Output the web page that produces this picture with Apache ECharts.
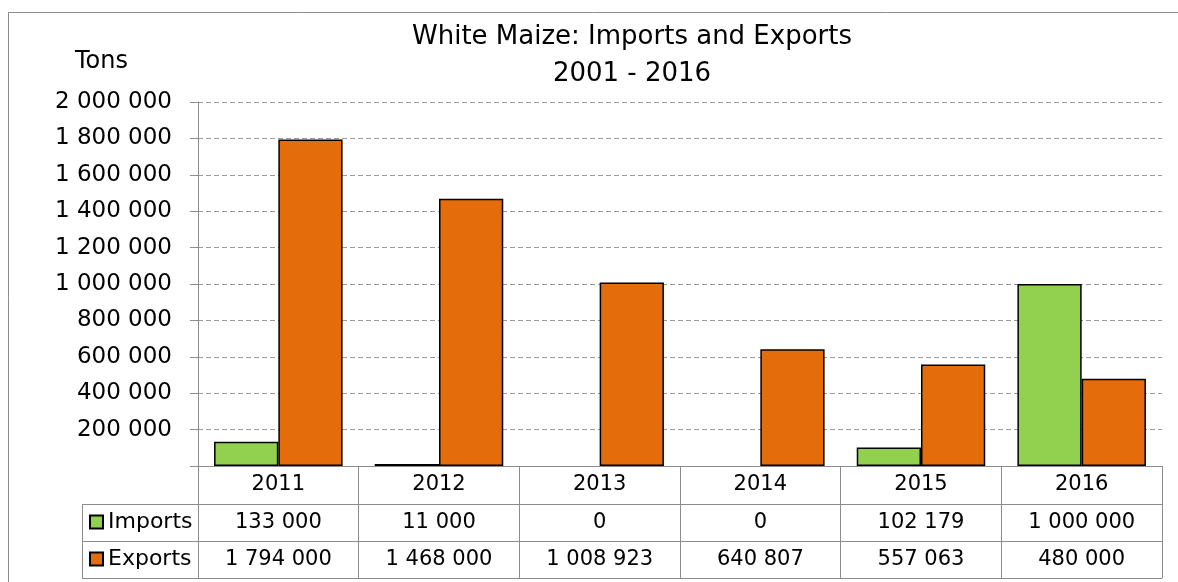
<!DOCTYPE html>
<html>
<head>
<meta charset="utf-8">
<script src="https://cdn.jsdelivr.net/npm/echarts@6/dist/echarts.min.js"></script>
<style>
  html, body { margin: 0; padding: 0; background: #fff; }
  #chart { width: 1178px; height: 582px; }
</style>
</head>
<body>
<div id="chart"></div>
<script>
// White maize trade, tons per year
const years = ['2011', '2012', '2013', '2014', '2015', '2016'];
const imports = [133000, 11000, 0, 0, 102179, 1000000];
const exportsTons = [1794000, 1468000, 1008923, 640807, 557063, 480000];
const yTicks = { min: 0, max: 2000000, interval: 200000 };

const FONT = 'DejaVu Sans';
const LINE = '#8c8c8c';
const GREEN = '#92D050';
const ORANGE = '#E46C0A';

// thousands separated by spaces
function fmt(v) {
  return String(v).replace(/\B(?=(\d{3})+(?!\d))/g, ' ');
}

// zero-height bars get no outline
function barData(values) {
  return values.map(v => (v === 0 ? { value: v, itemStyle: { borderWidth: 0 } } : v));
}

// plot box
const G = { left: 198, right: 16, top: 102, bottom: 116 };
const ROW = [38, 75, 112];          // data-table row lines below the x axis
const plotBottom = 582 - G.bottom;  // y of the category axis
const keyLeft = 82;                 // left edge of the legend column

const chart = echarts.init(document.getElementById('chart'), null, { renderer: 'canvas' });

function rowAxis(offset, labels, showLabel) {
  return {
    type: 'category',
    data: labels,
    position: 'bottom',
    offset: offset,
    axisLine: { show: true, lineStyle: { color: LINE, width: 1 } },
    axisTick: { show: false },
    axisLabel: {
      show: showLabel, interval: 0, margin: 6,
      fontFamily: FONT, fontSize: 21, lineHeight: 26, color: '#000'
    },
    splitLine: { show: false }
  };
}

const option = {
  animation: false,
  backgroundColor: '#fff',
  textStyle: { fontFamily: FONT },
  grid: { left: G.left, right: G.right, top: G.top, bottom: G.bottom, containLabel: false },
  legend: {
    data: ['Imports', 'Exports'],
    orient: 'vertical',
    left: 89,
    top: plotBottom + ROW[0] + 5,
    padding: 0,
    itemGap: 11,
    itemWidth: 13,
    itemHeight: 13,
    icon: 'rect',
    selectedMode: false,
    textStyle: { fontFamily: FONT, fontSize: 22, lineHeight: 26, color: '#000', padding: [0, 0, 0, 0] }
  },
  xAxis: [
    {
      type: 'category',
      data: years,
      position: 'bottom',
      axisLine: { show: true, lineStyle: { color: LINE, width: 1 } },
      axisTick: { show: true, interval: 0, length: ROW[2], lineStyle: { color: LINE, width: 1 } },
      axisLabel: { interval: 0, margin: 6, fontFamily: FONT, fontSize: 21, lineHeight: 26, color: '#000' },
      splitLine: { show: false }
    },
    rowAxis(ROW[0], imports.map(fmt), true),
    rowAxis(ROW[1], exportsTons.map(fmt), true),
    rowAxis(ROW[2], years, false)
  ],
  yAxis: {
    type: 'value',
    min: yTicks.min,
    max: yTicks.max,
    interval: yTicks.interval,
    name: 'Tons',
    nameLocation: 'end',
    nameGap: 28,
    nameTextStyle: { fontFamily: FONT, fontSize: 24, color: '#000', align: 'right', padding: [0, 70, 0, 0] },
    axisLine: { show: true, lineStyle: { color: LINE, width: 1 } },
    axisTick: { show: true, length: 8, lineStyle: { color: LINE, width: 1 } },
    axisLabel: {
      margin: 26, fontFamily: FONT, fontSize: 23, color: '#000',
      formatter: v => (v === 0 ? '' : fmt(v))
    },
    splitLine: { show: true, lineStyle: { color: '#9a9a9a', width: 1, type: [5, 3] } }
  },
  series: [
    {
      name: 'Imports',
      type: 'bar',
      data: barData(imports),
      barGap: '0%',
      barCategoryGap: '20%',
      itemStyle: { color: GREEN, borderColor: '#000', borderWidth: 1.5 }
    },
    {
      name: 'Exports',
      type: 'bar',
      data: barData(exportsTons),
      barGap: '0%',
      barCategoryGap: '20%',
      itemStyle: { color: ORANGE, borderColor: '#000', borderWidth: 1.5 }
    }
  ],
  graphic: [
    // chart frame
    {
      type: 'rect', silent: true,
      shape: { x: 8.5, y: 12.5, width: 1200, height: 600 },
      style: { fill: null, stroke: LINE, lineWidth: 1 }
    },
    // title
    {
      type: 'text', silent: true,
      x: 632, y: 19,
      style: {
        text: 'White Maize: Imports and Exports\n2001 - 2016',
        fontFamily: FONT, fontSize: 26, lineHeight: 37, fill: '#000',
        align: 'center', verticalAlign: 'top'
      }
    },
    // legend column of the data table
    ...ROW.map(r => ({
      type: 'line', silent: true,
      shape: { x1: keyLeft, y1: plotBottom + r + 0.5, x2: G.left, y2: plotBottom + r + 0.5 },
      style: { stroke: LINE, lineWidth: 1 }
    })),
    {
      type: 'line', silent: true,
      shape: { x1: keyLeft + 0.5, y1: plotBottom + ROW[0], x2: keyLeft + 0.5, y2: plotBottom + ROW[2] + 1 },
      style: { stroke: LINE, lineWidth: 1 }
    }
  ]
};

chart.setOption(option);
</script>
</body>
</html>
